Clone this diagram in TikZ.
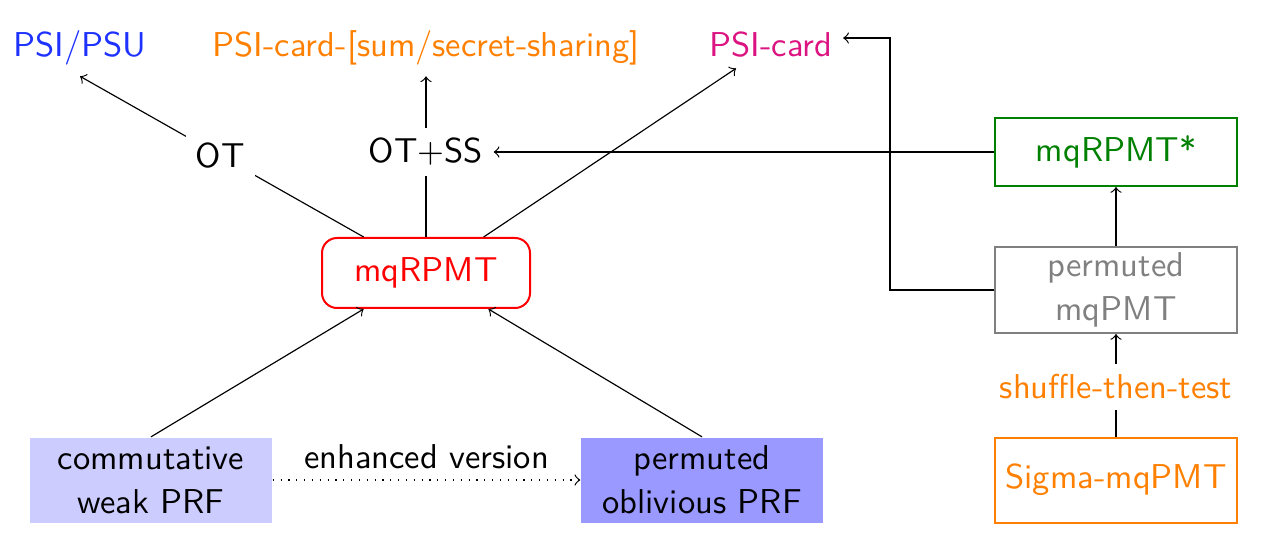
\documentclass[tikz,border=0pt]{standalone}
\usepackage{fontspec}
\renewcommand{\familydefault}{\sfdefault}
\definecolor{psipsu}{RGB}{30,50,255}
\definecolor{orng}{RGB}{255,128,0}
\definecolor{pcard}{RGB}{220,20,130}
\definecolor{dgreen}{RGB}{0,128,0}
\definecolor{lblue}{RGB}{204,204,255}
\definecolor{mblue}{RGB}{153,153,255}
\definecolor{gtext}{RGB}{128,128,128}
\begin{document}
\begin{tikzpicture}[x=0.3pt,y=-0.3pt,
  every node/.style={font=\fontsize{10.35}{13.2}\selectfont, inner sep=3pt},
  conn/.style={draw=black, line width=0.35pt},
  bigbox/.style={minimum width=72.6pt, minimum height=25.5pt, align=center, inner sep=0pt},
  outbox/.style={bigbox, draw, line width=0.6pt},
  >=to]
\useasboundingbox (0,0) rectangle (1268,553);
% top row
\node[anchor=base, text=psipsu] (PSIPSU) at (80,57) {PSI/PSU};
\node[anchor=base, text=orng] (PSIsum) at (426,57) {PSI-card-[sum/secret-sharing]};
\node[anchor=base, text=pcard] (PSIcard) at (771,57) {PSI-card};
% center
\node[draw=red, line width=0.6pt, rounded corners=4.5pt, text=red, minimum width=62.4pt, minimum height=21pt, inner sep=0pt] (mqRPMT) at (426,273) {mqRPMT};
% bottom
\node[bigbox, fill=lblue] (cwPRF) at (151,480) {commutative\\weak PRF};
\node[bigbox, fill=mblue] (poPRF) at (702,480) {permuted\\oblivious PRF};
% right column
\node[outbox, draw=dgreen, text=dgreen, minimum height=20.4pt] (mqRPMTs) at (1116,152) {mqRPMT*};
\node[outbox, draw=gray, text=gtext, minimum height=25.8pt] (pmq) at (1116,290) {permuted\\mqPMT};
\node[outbox, draw=orng, text=orng] (sigma) at (1116,480) {Sigma-mqPMT};
\node[text=orng] (shuffle) at (1116,387) {shuffle-then-test};
% connectors
\draw[conn,->] (mqRPMT.150) -- node[pos=0.505, fill=white, inner sep=3pt] (OT) {OT} (PSIPSU.south);
\draw[conn,->] (mqRPMT.north) -- node[pos=0.53, fill=white, inner sep=3pt] (OTSS) {OT+SS} (PSIsum.south);
\draw[conn,->] (mqRPMT.32) -- (PSIcard);
\draw[conn,->] (cwPRF.north) -- (mqRPMT.210);
\draw[conn,->] (poPRF.north) -- (mqRPMT.330);
\draw[conn,->,dotted] (cwPRF.east) -- node[above=0.3pt] (enh) {enhanced version} (poPRF.west);
\draw[conn,->] (mqRPMTs.west) -- (mqRPMTs.west -| OTSS.east);
\draw[conn,->] (pmq.north) -- (mqRPMTs.south);
\draw[conn] (sigma.north) -- (shuffle.south);
\draw[conn,->] (shuffle.north) -- (pmq.south);
\draw[conn,->] (pmq.west) -- ++(-104,0) |- ([yshift=2.1pt]PSIcard.east);
\end{tikzpicture}
\end{document}
